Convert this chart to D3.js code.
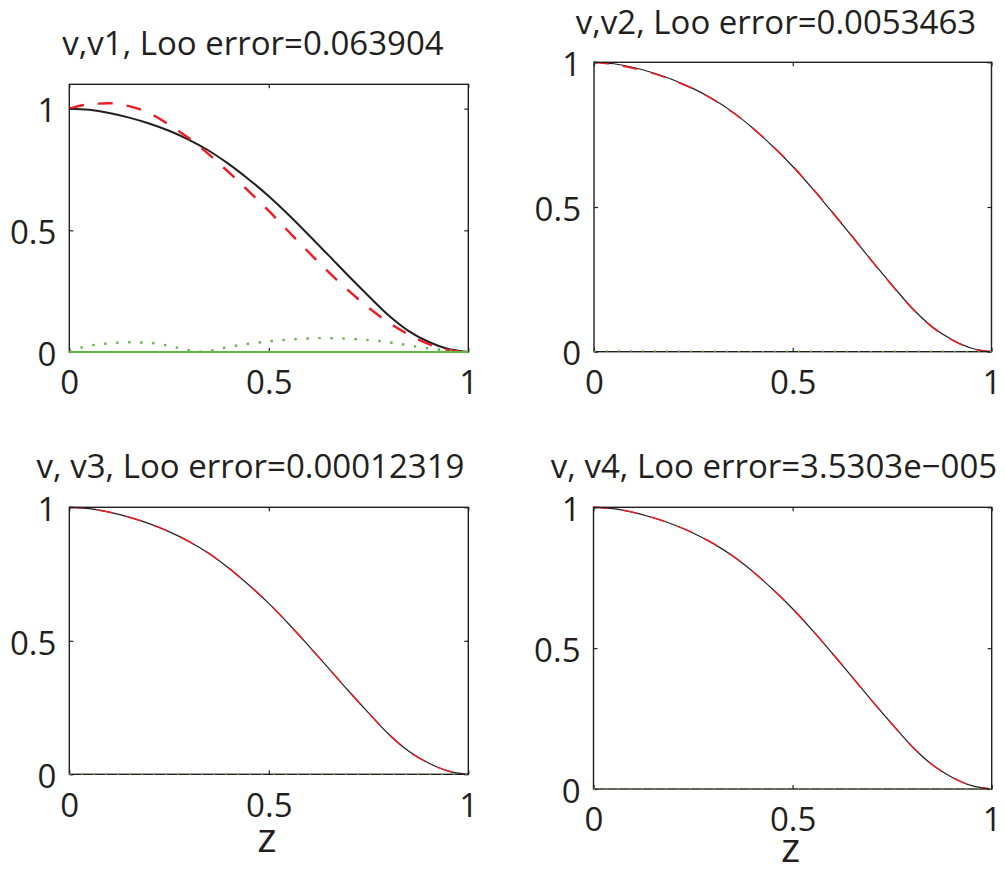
<!DOCTYPE html>
<html>
<head>
    <meta charset="utf-8">
    <title>v, Loo error</title>
    <style type="text/css">
        body {
            margin: 0;
            background: #fff;
        }
        text {
            font-family: "Open Sans", sans-serif;
            fill: #231f20;
        }
    </style>
</head>
<body>

<svg id="chart" width="1005" height="872"></svg>

<script src="https://cdnjs.cloudflare.com/ajax/libs/d3/7.8.5/d3.min.js"></script>
<script type="text/javascript">
    // z grid
    var zGrid = [0, 0.05, 0.1, 0.15, 0.2, 0.25, 0.3, 0.35, 0.4, 0.45, 0.5,
        0.55, 0.6, 0.65, 0.7, 0.75, 0.8, 0.85, 0.9, 0.95, 1];

    // exact v (black)
    var vExact = [1.000, 0.995, 0.982, 0.963, 0.939, 0.909, 0.872, 0.827, 0.772, 0.709, 0.640,
        0.563, 0.481, 0.397, 0.312, 0.230, 0.151, 0.087, 0.042, 0.012, 0.000];

    // approximations (red dashed)
    var v1 = [1.000, 1.018, 1.022, 1.010, 0.982, 0.934, 0.878, 0.812, 0.738, 0.660, 0.580,
        0.494, 0.410, 0.328, 0.252, 0.182, 0.122, 0.072, 0.033, 0.008, 0.000];
    var v2 = [1.000, 0.992, 0.979, 0.961, 0.937, 0.908, 0.871, 0.826, 0.772, 0.710, 0.641,
        0.564, 0.482, 0.398, 0.312, 0.229, 0.150, 0.086, 0.041, 0.011, 0.000];
    var v3 = [1.000, 0.995, 0.982, 0.963, 0.939, 0.909, 0.872, 0.827, 0.772, 0.709, 0.640,
        0.563, 0.481, 0.397, 0.312, 0.230, 0.151, 0.087, 0.042, 0.012, 0.000];
    var v4 = [1.000, 0.995, 0.982, 0.963, 0.939, 0.909, 0.872, 0.827, 0.772, 0.709, 0.640,
        0.563, 0.481, 0.397, 0.312, 0.230, 0.151, 0.087, 0.042, 0.012, 0.000];

    // errors (green dotted)
    var zErr1 = [0, 0.03, 0.09, 0.15, 0.21, 0.27, 0.33, 0.39, 0.45, 0.51, 0.57,
        0.63, 0.69, 0.75, 0.81, 0.87, 0.93, 1];
    var err1 = [0.000, 0.018, 0.034, 0.040, 0.036, 0.018, 0.001, 0.018, 0.034, 0.045, 0.053,
        0.057, 0.055, 0.049, 0.038, 0.022, 0.009, 0.000];
    var err2 = [0, 0.003, 0.003, 0.002, 0.002, 0.001, 0.001, 0.001, 0.000, 0.001, 0.001,
        0.001, 0.001, 0.001, 0.000, 0.001, 0.001, 0.001, 0.001, 0.001, 0];
    var err3 = [0, 0, 0, 0, 0, 0, 0, 0, 0, 0, 0, 0, 0, 0, 0, 0, 0, 0, 0, 0, 0];
    var err4 = [0, 0, 0, 0, 0, 0, 0, 0, 0, 0, 0, 0, 0, 0, 0, 0, 0, 0, 0, 0, 0];

    // zero line (green solid, first panel)
    var zLine = [0, 1];
    var vZero = [0, 0];

    // ticks + titles
    var xTicks = [0, 0.5, 1];
    var yTicks = [0, 0.5, 1];
    var xTickLabels = ["0", "0.5", "1"];
    var yTickLabels = ["0", "0.5", "1"];
    var titles = ["v,v1, Loo error=0.063904",
        "v,v2, Loo error=0.0053463",
        "v, v3, Loo error=0.00012319",
        "v, v4, Loo error=3.5303e\u2212005"];
    var xLabel = "z";

    var black = "#231f20", red = "#ed1c24", green = "#62b446";

    var panels = [
        {left: 69.3, top: 84.3, right: 468.3, bottom: 352, yMax: 1.1, approx: v1, err: err1, errZ: zErr1,
            titleX: 253, titleY: 55, lw: 2, rw: 2.4, zero: true},
        {left: 594, top: 62.3, right: 991.5, bottom: 351.7, yMax: 1, approx: v2, err: err2, errZ: zGrid,
            titleX: 776, titleY: 34, lw: 1.2, rw: 1.6},
        {left: 69.3, top: 507.3, right: 468.3, bottom: 774.3, yMax: 1, approx: v3, err: err3, errZ: zGrid,
            titleX: 250.5, titleY: 478, lw: 1.2, rw: 1.5, labelY: 852},
        {left: 593.5, top: 507.3, right: 991.7, bottom: 789, yMax: 1, approx: v4, err: err4, errZ: zGrid,
            titleX: 774, titleY: 478, lw: 1.2, rw: 1.5, labelY: 862}
    ];

    var svg = d3.select("#chart");

    panels.forEach(function (p, k) {
        var x = d3.scaleLinear().domain([0, 1]).range([p.left, p.right]);
        var y = d3.scaleLinear().domain([0, p.yMax]).range([p.bottom, p.top]);
        var g = svg.append("g");

        // curves
        var line = d3.line()
            .x(function (d) { return x(d[0]); })
            .y(function (d) { return y(d[1]); })
            .curve(d3.curveMonotoneX);

        g.append("path")
            .attr("d", line(d3.zip(zGrid, vExact)))
            .attr("fill", "none").attr("stroke", black).attr("stroke-width", p.lw);

        g.append("path")
            .attr("d", line(d3.zip(zGrid, p.approx)))
            .attr("fill", "none").attr("stroke", red).attr("stroke-width", p.rw)
            .attr("stroke-dasharray", "15,14");

        // box
        g.append("rect")
            .attr("x", p.left).attr("y", p.top)
            .attr("width", p.right - p.left).attr("height", p.bottom - p.top)
            .attr("fill", "none").attr("stroke", black).attr("stroke-width", 1.4);

        // axes, ticks inward
        var bottomAxis = d3.axisBottom(x).tickValues(xTicks)
            .tickFormat(function (d, i) { return xTickLabels[i]; })
            .tickSizeInner(-4).tickSizeOuter(0).tickPadding(19);
        var topAxis = d3.axisTop(x).tickValues(xTicks).tickFormat("")
            .tickSizeInner(-4).tickSizeOuter(0);
        var leftAxis = d3.axisLeft(y).tickValues(yTicks)
            .tickFormat(function (d, i) { return yTickLabels[i]; })
            .tickSizeInner(-4).tickSizeOuter(0).tickPadding(13);
        var rightAxis = d3.axisRight(y).tickValues(yTicks).tickFormat("")
            .tickSizeInner(-4).tickSizeOuter(0);

        var axes = [
            g.append("g").attr("transform", "translate(0," + p.bottom + ")").call(bottomAxis),
            g.append("g").attr("transform", "translate(0," + p.top + ")").call(topAxis),
            g.append("g").attr("transform", "translate(" + p.left + ",0)").call(leftAxis),
            g.append("g").attr("transform", "translate(" + p.right + ",0)").call(rightAxis)
        ];
        axes.forEach(function (a) {
            a.attr("font-family", null).attr("font-size", 33);
            a.select(".domain").remove();
            a.selectAll(".tick line").attr("stroke", black).attr("stroke-width", 1.2);
            a.selectAll(".tick text").attr("fill", black);
        });
        axes[2].selectAll(".tick text").attr("dy", "0.4em");

        // error curves, drawn over the box
        var errLine = d3.line()
            .x(function (d) { return x(d[0]); })
            .y(function (d) { return y(d[1]); })
            .curve(d3.curveMonotoneX);

        if (p.zero) {
            g.append("path")
                .attr("d", errLine(d3.zip(zLine, vZero)))
                .attr("fill", "none").attr("stroke", green).attr("stroke-width", 2.2);
        }
        g.append("path")
            .attr("d", errLine(d3.zip(p.errZ, p.err)))
            .attr("fill", "none").attr("stroke", green)
            .attr("stroke-width", p.zero ? 2.4 : 1.6)
            .attr("stroke-dasharray", p.zero ? "2.4,9.6" : "1.6,10.4");

        // title
        g.append("text")
            .attr("x", p.titleX).attr("y", p.titleY)
            .attr("text-anchor", "middle")
            .style("font-size", "33px")
            .text(titles[k]);

        // x label on bottom row
        if (p.labelY) {
            g.append("text")
                .attr("x", (p.left + p.right) / 2 - 2).attr("y", p.labelY)
                .attr("text-anchor", "middle")
                .style("font-size", "41px")
                .text(xLabel);
        }
    });
</script>
</body>
</html>
